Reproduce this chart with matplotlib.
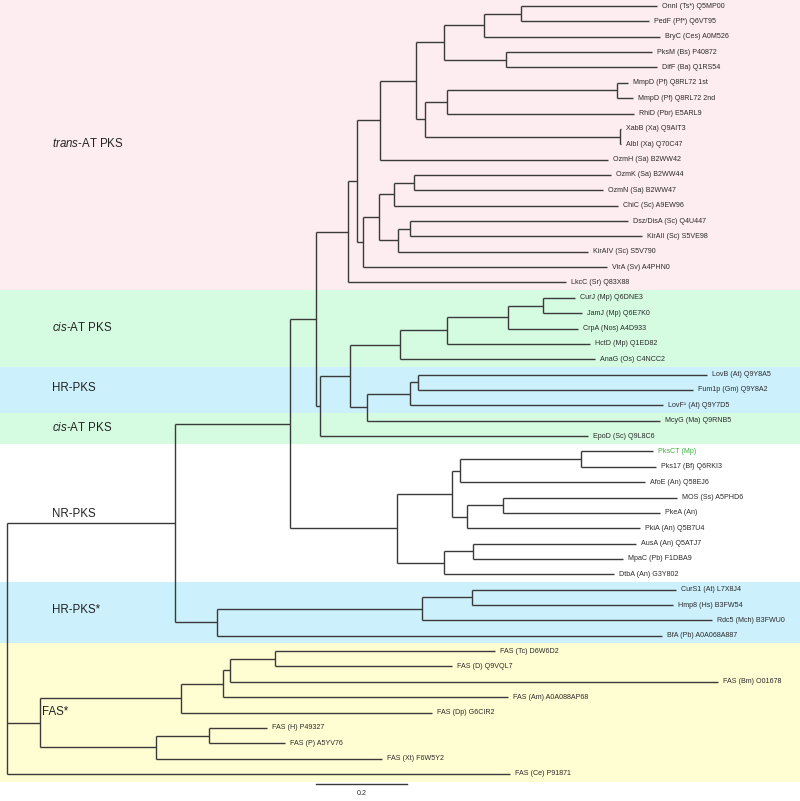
import matplotlib
matplotlib.use("Agg")
import matplotlib.pyplot as plt
from matplotlib import font_manager

# leaves, top to bottom, with distance from root (substitutions per site)
leaf_names = [
    "OnnI (Ts*) Q5MP00", "PedF (Pf*) Q6VT95", "BryC (Ces) A0M526", "PksM (Bs) P40872",
    "DifF (Ba) Q1RS54", "MmpD (Pf) Q8RL72 1st", "MmpD (Pf) Q8RL72 2nd", "RhiD (Pbr) E5ARL9",
    "XabB (Xa) Q9AIT3", "AlbI (Xa) Q70C47", "OzmH (Sa) B2WW42", "OzmK (Sa) B2WW44",
    "OzmN (Sa) B2WW47", "ChiC (Sc) A9EW96", "Dsz/DisA (Sc) Q4U447", "KirAII (Sc) S5VE98",
    "KirAIV (Sc) S5V790", "VirA (Sv) A4PHN0", "LkcC (Sr) Q83X88",
    "CurJ (Mp) Q6DNE3", "JamJ (Mp) Q6E7K0", "CrpA (Nos) A4D933", "HctD (Mp) Q1ED82",
    "AnaG (Os) C4NCC2", "LovB (At) Q9Y8A5", "Fum1p (Gm) Q9Y8A2", "LovF¹ (At) Q9Y7D5",
    "McyG (Ma) Q9RNB5", "EpoD (Sc) Q9L8C6",
    "PksCT (Mp)", "Pks17 (Bf) Q6RKI3", "AfoE (An) Q58EJ6", "MOS (Ss) A5PHD6",
    "PkeA (An)", "PkiA (An) Q5B7U4", "AusA (An) Q5ATJ7", "MpaC (Pb) F1DBA9",
    "DtbA (An) G3Y802", "CurS1 (At) L7X8J4", "Hmp8 (Hs) B3FW54", "Rdc5 (Mch) B3FWU0",
    "BfA (Pb) A0A068A887",
    "FAS (Tc) D6W6D2", "FAS (D) Q9VQL7", "FAS (Bm) O01678", "FAS (Am) A0A088AP68",
    "FAS (Dp) G6CIR2", "FAS (H) P49327", "FAS (P) A5YV76", "FAS (Xt) F6W5Y2",
    "FAS (Ce) P91871",
]
leaf_depths = [
    1.429, 1.411, 1.435, 1.418, 1.429, 1.365, 1.376, 1.378, 1.349, 1.349,
    1.321, 1.327, 1.310, 1.343, 1.365, 1.396, 1.277, 1.319, 1.229,
    1.248, 1.264, 1.255, 1.281, 1.292, 1.538, 1.508, 1.442, 1.435, 1.277,
    1.420, 1.426, 1.402, 1.473, 1.435, 1.391, 1.382, 1.354, 1.334,
    1.470, 1.464, 1.549, 1.440,
    1.073, 0.978, 1.563, 1.101, 0.934, 0.571, 0.611, 0.824, 1.105,
]

# internal nodes: id -> (children, depth); children are leaf indices (int) or node ids (str)
nodes = {
    "n1": ([0, 1], 1.130), "n2": (["n1", 2], 1.048), "n3": ([3, 4], 1.097),
    "n4": (["n2", "n3"], 0.960), "n5": ([5, 6], 1.341), "n6": (["n5", 7], 0.967),
    "n7": ([8, 9], 1.347), "n8": (["n6", "n7"], 0.919), "n9": (["n4", "n8"], 0.899),
    "n10": (["n9", 10], 0.820), "n11": ([11, 12], 0.895), "n12": (["n11", 13], 0.851),
    "n13": ([14, 15], 0.886), "n14": (["n13", 16], 0.859), "n15": (["n12", "n14"], 0.818),
    "n16": (["n15", 17], 0.782), "n17": (["n10", "n16"], 0.769), "n18": (["n17", 18], 0.749),
    "n19": ([19, 20], 1.178), "n20": (["n19", 21], 1.101), "n21": (["n20", 22], 0.967),
    "n22": (["n21", 23], 0.864), "n23": ([24, 25], 0.903), "n24": (["n23", 26], 0.886),
    "n25": (["n24", 27], 0.791), "n26": (["n22", "n25"], 0.754), "n27": (["n26", 28], 0.688),
    "n28": (["n18", "n27"], 0.679), "n29": ([29, 30], 1.262), "n30": (["n29", 31], 0.996),
    "n31": ([32, 33], 1.090), "n32": (["n31", 34], 1.011), "n33": (["n30", "n32"], 0.978),
    "n34": ([35, 36], 1.024), "n35": (["n34", 37], 0.960), "n36": (["n33", "n35"], 0.857),
    "n37": (["n28", "n36"], 0.622), "n38": ([38, 39], 1.022), "n39": (["n38", 40], 0.912),
    "n40": (["n39", 41], 0.462), "n41": (["n37", "n40"], 0.369),
    "n42": ([42, 43], 0.589), "n43": (["n42", 44], 0.490), "n44": (["n43", 45], 0.475),
    "n45": (["n44", 46], 0.382), "n46": ([47, 48], 0.444), "n47": (["n46", 49], 0.327),
    "n48": (["n45", "n47"], 0.073),
    "root": (["n41", "n48", 50], 0.0),
}

# shaded groups: (first leaf, last leaf, colour)
band_first = [0, 19, 24, 27, 38, 42]
band_last = [18, 23, 26, 28, 41, 50]
band_colors = ["#fdecf0", "#d5fbe0", "#ccf0fc", "#d5fbe0", "#ccf0fc", "#fffdd2"]

group_labels = ["$\\mathit{trans}$-AT PKS", "$\\mathit{cis}$-AT PKS", "HR-PKS",
                "$\\mathit{cis}$-AT PKS", "NR-PKS", "HR-PKS*", "FAS*"]
group_label_y = [8.98, 20.96, 24.87, 27.47, 33.07, 39.32, 45.96]
group_label_x = [0.099, 0.099, 0.099, 0.099, 0.099, 0.099, 0.077]

highlight_leaf = "PksCT (Mp)"
scale_length = 0.2

plt.rcParams["mathtext.fontset"] = "custom"
plt.rcParams["mathtext.it"] = "Liberation Sans:italic"
plt.rcParams["mathtext.rm"] = "Liberation Sans"

installed = {f.name for f in font_manager.fontManager.ttflist}
if "Liberation Sans Narrow" in installed:
    leaf_font, leaf_size = "Liberation Sans Narrow", 6.2
else:
    leaf_font, leaf_size = "Liberation Sans", 5.1

line_color = "#3a3a3a"
lw = 1.0

fig = plt.figure(figsize=(8, 8.01), dpi=100)
ax = fig.add_axes([0, 0, 1, 1])
ax.set_xlim(-0.0154, 1.743)
ax.set_ylim(51.76, -0.391)
ax.axis("off")

# background bands
for k, (a, b, c) in enumerate(zip(band_first, band_last, band_colors)):
    top = -0.391 if k == 0 else a - 0.5
    ax.axhspan(top, b + 0.5, color=c, lw=0, zorder=0)

node_y = {}


def get_y(child):
    if isinstance(child, int):
        return float(child)
    if child not in node_y:
        kids, _ = nodes[child]
        ys = [get_y(k) for k in kids]
        node_y[child] = (min(ys) + max(ys)) / 2
    return node_y[child]


def get_depth(child):
    return leaf_depths[child] if isinstance(child, int) else nodes[child][1]


for nid, (kids, depth) in nodes.items():
    ys = [get_y(k) for k in kids]
    ax.plot([depth, depth], [min(ys), max(ys)], color=line_color, lw=lw,
            solid_capstyle="butt", zorder=2)
    for k in kids:
        ax.plot([depth, get_depth(k)], [get_y(k), get_y(k)], color=line_color, lw=lw,
                solid_capstyle="butt", zorder=2)

# leaf labels
for i, (name, d) in enumerate(zip(leaf_names, leaf_depths)):
    col = "#3cae3c" if name == highlight_leaf else "#2a2a2a"
    ax.text(d + 0.011, i, name, fontsize=leaf_size, family=[leaf_font, "DejaVu Sans"],
            color=col, ha="left", va="center", zorder=3)

# group labels
for lab, gx, gy in zip(group_labels, group_label_x, group_label_y):
    ax.text(gx, gy, lab, fontsize=8.3, family="Liberation Sans", color="#222222",
            ha="left", va="center", zorder=3)

# scale bar
sx = 0.679
ax.plot([sx, sx + scale_length], [50.65, 50.65], color=line_color, lw=lw, zorder=2)
ax.text(sx + scale_length / 2, 51.3, f"{scale_length:.1f}", fontsize=leaf_size,
        family=[leaf_font, "DejaVu Sans"], color="#2a2a2a", ha="center", va="center")

fig.savefig("out.png", dpi=100)
